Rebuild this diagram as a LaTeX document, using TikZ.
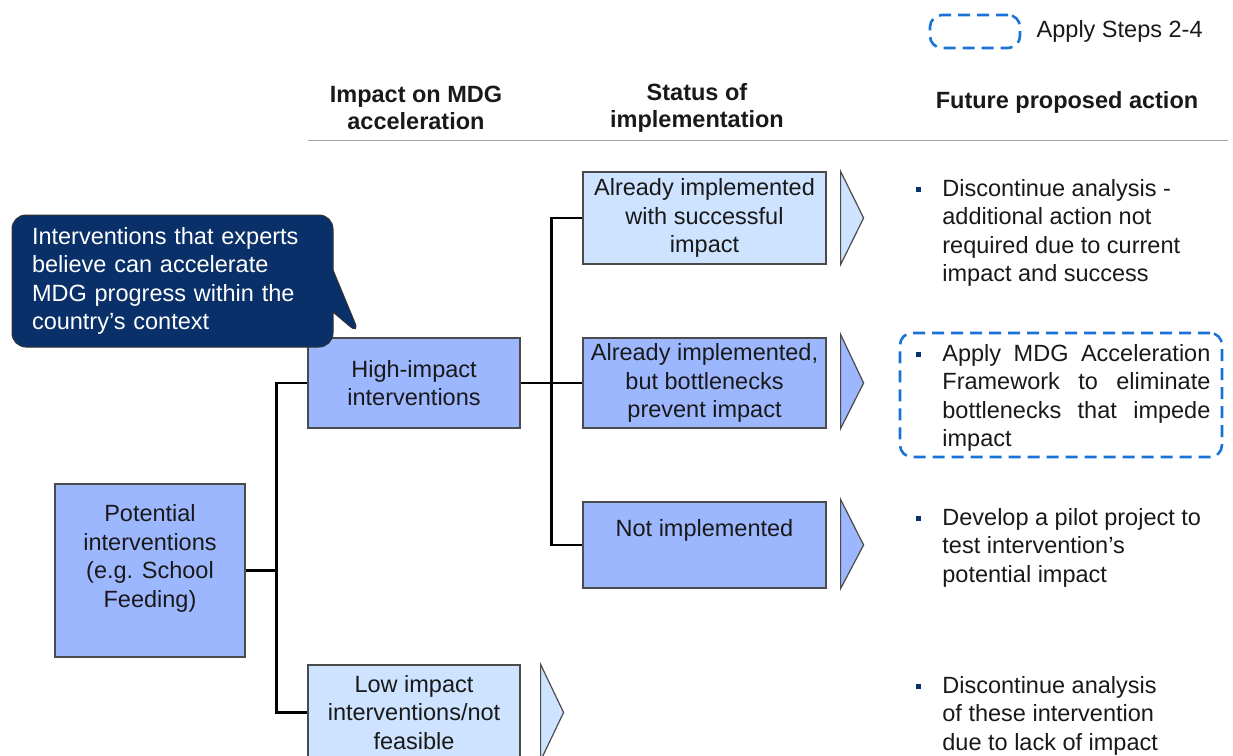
\documentclass[tikz,border=0pt]{standalone}
\usepackage{fontspec}
\setmainfont{Liberation Sans}
\usetikzlibrary{shapes,shapes.callouts,positioning}
\definecolor{boxblue}{RGB}{157,183,255}
\definecolor{paleblue}{RGB}{206,227,255}
\definecolor{navyblue}{RGB}{10,48,105}
\definecolor{stepblue}{RGB}{25,115,215}
\definecolor{edgegray}{RGB}{75,75,75}
\newcommand{\bulletpt}{\textcolor{navyblue}{\rule[4pt]{5pt}{5pt}}}

\begin{document}
\begin{tikzpicture}[x=1pt, y=-1pt, thick,
    every node/.style={font=\fontsize{23.5}{28.5}\selectfont, text=black!90},
    box/.style={draw=edgegray, line width=1.2pt, rectangle, align=center, inner sep=3pt},
    head/.style={align=center, font=\fontsize{23.5}{27}\selectfont\bfseries},
    action/.style={anchor=base west, inner sep=0pt},
    stepsbox/.style={draw=stepblue, line width=2.6pt, dash pattern=on 12pt off 7pt, rounded corners=12pt},
    chev/.style={draw=edgegray, line width=1.2pt},
    conn/.style={draw=black, line width=2.6pt}]
    \useasboundingbox (0,0) rectangle (1233,755);

    % Legend
    \node[stepsbox, minimum width=90pt, minimum height=33pt] (legend) at (975,31.5) {};
    \node[right=15pt of legend, inner sep=0pt] (legendtext) {Apply Steps 2-4};

    % Column headers
    \node[head] (hdimpact) at (416,108) {Impact on MDG\\acceleration};
    \node[head] (hdstatus) at (697,108) {Status of\\implementation};
    \node[head] (hdaction) at (1067,102) {Future proposed action};
    \draw[gray!70, line width=1pt] (308,140) -- (1228,140);

    % Tree boxes
    \node[box, fill=boxblue, minimum width=190pt, minimum height=173pt, text depth=29pt] (pot) at (150,570.5) {Potential\\interventions\\(e.g. School\\Feeding)};
    \node[box, fill=boxblue, minimum width=212pt, minimum height=90pt] (high) at (414,383) {High-impact\\interventions};
    \node[box, fill=paleblue, minimum width=212pt, minimum height=95pt] (low) at (414,712.5) {Low impact\\interventions/not\\feasible};

    \node[box, fill=paleblue, minimum width=243pt, minimum height=92pt] (stat1) at (704.5,218) {Already implemented\\with successful\\impact};
    \node[box, fill=boxblue, minimum width=243pt, minimum height=90pt] (stat2) at (704.5,383) {Already implemented,\\but bottlenecks\\prevent impact};
    \node[box, fill=boxblue, minimum width=243pt, minimum height=86pt, text depth=34pt] (stat3) at (704.5,545) {Not implemented};

    % Callout
    \node[rectangle callout, rounded corners=14pt, fill=navyblue, draw=black!80, line width=1pt,
          text=white, text width=281pt, align=left, inner xsep=20pt, minimum height=132pt,
          callout absolute pointer={(360,335)}, callout pointer width=42pt] (note) at (172.5,281)
          {Interventions that experts\\believe can accelerate\\MDG progress within the\\country's context};

    % Connectors
    \draw[conn] (pot.east) -- ++(32,0);
    \draw[conn] (high.west) -- ++(-31,0) |- (low.west);
    \draw[conn] (high.east) -- (stat2.west);
    \draw[conn] (stat1.west) -- ++(-31,0) |- (stat3.west);

    % Chevrons
    \draw[chev, fill=paleblue] ([xshift=14pt]stat1.north east) -- ([xshift=37pt]stat1.east) -- ([xshift=14pt]stat1.south east) -- cycle;
    \draw[chev, fill=boxblue] ([xshift=14pt, yshift=3pt]stat2.north east) -- ([xshift=37pt]stat2.east) -- ([xshift=14pt]stat2.south east) -- cycle;
    \draw[chev, fill=boxblue] ([xshift=14pt, yshift=2pt]stat3.north east) -- ([xshift=37pt]stat3.east) -- ([xshift=14pt]stat3.south east) -- cycle;
    \draw[chev, fill=paleblue] ([xshift=20pt]low.north east) -- ([xshift=43pt]low.east) -- ([xshift=20pt]low.south east) -- cycle;

    % Proposed actions
    \node[action] (act1) at (916,196) {\begin{tabular}[t]{@{}p{26pt}@{}p{284pt}@{}}\bulletpt & Discontinue analysis -\newline additional action not\newline required due to current\newline impact and success\end{tabular}};
    \node[action] (act2) at (916,361) {\begin{tabular}[t]{@{}p{26pt}@{}p{268pt}@{}}\bulletpt & Apply MDG Acceleration\linebreak Framework to eliminate\linebreak bottlenecks that impede\linebreak impact\end{tabular}};
    \node[stepsbox, minimum width=322pt, minimum height=124pt] (act2box) at (1061,395) {};
    \node[action] (act3) at (916,525) {\begin{tabular}[t]{@{}p{26pt}@{}p{284pt}@{}}\bulletpt & Develop a pilot project to\newline test intervention's\newline potential impact\end{tabular}};
    \node[action] (act4) at (916,693) {\begin{tabular}[t]{@{}p{26pt}@{}p{284pt}@{}}\bulletpt & Discontinue analysis\newline of these intervention\newline due to lack of impact\end{tabular}};
\end{tikzpicture}
\end{document}
